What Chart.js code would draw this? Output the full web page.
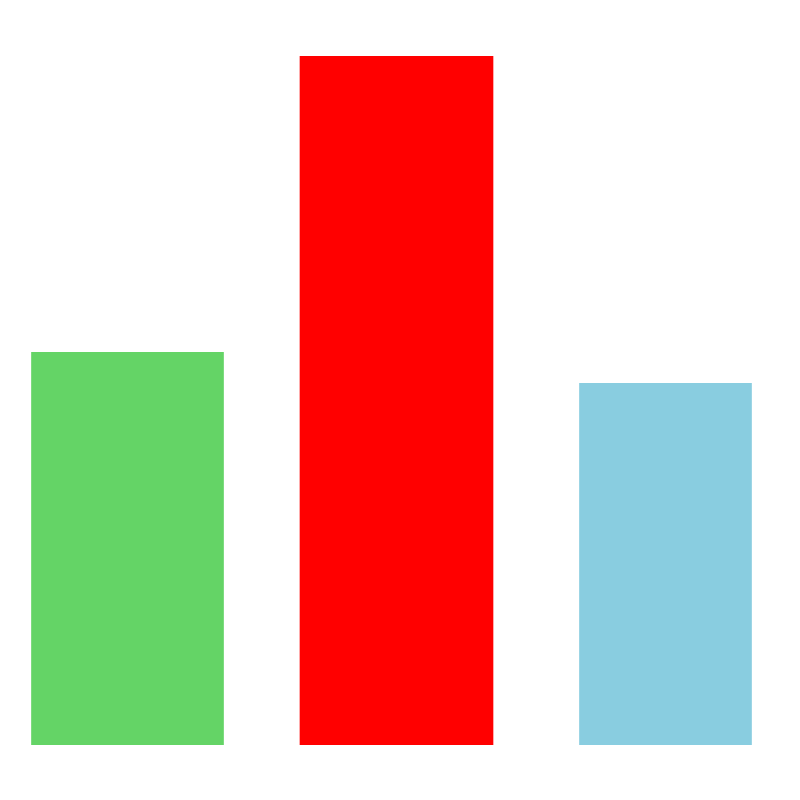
<!DOCTYPE html>
<html>
<head>
<meta charset="utf-8">
<script src="https://cdn.jsdelivr.net/npm/chart.js@4"></script>
<style>
  html, body { margin: 0; padding: 0; background: #fff; overflow: hidden; }
  #wrap { width: 807px; height: 800px; margin-left: -7px; }
</style>
</head>
<body>
<div id="wrap"><canvas id="chart"></canvas></div>
<script>
// data
const categories = ["A", "B", "C"]
const values = [57, 100, 52.5]
const colors = ["#64d466", "#ff0000", "#89cde0"]
const widths = [192, 193, 172]

// one dataset per bar so each one can keep its own width
const datasets = values.map((v, i) => ({
    data: categories.map((c, j) => j === i ? v : null),
    backgroundColor: colors[i],
    barThickness: widths[i],
    borderWidth: 0
}))

new Chart(document.getElementById("chart"), {
    type: "bar",
    data: { labels: categories, datasets: datasets },
    options: {
        responsive: true,
        maintainAspectRatio: false,
        animation: false,
        skipNull: true,
        layout: { padding: { top: 56, bottom: 55, left: 0, right: 0 } },
        plugins: { legend: { display: false }, tooltip: { enabled: false } },
        scales: {
            x: { display: false, stacked: false },
            y: { display: false, min: 0, max: 100 }
        }
    }
})
</script>
</body>
</html>
